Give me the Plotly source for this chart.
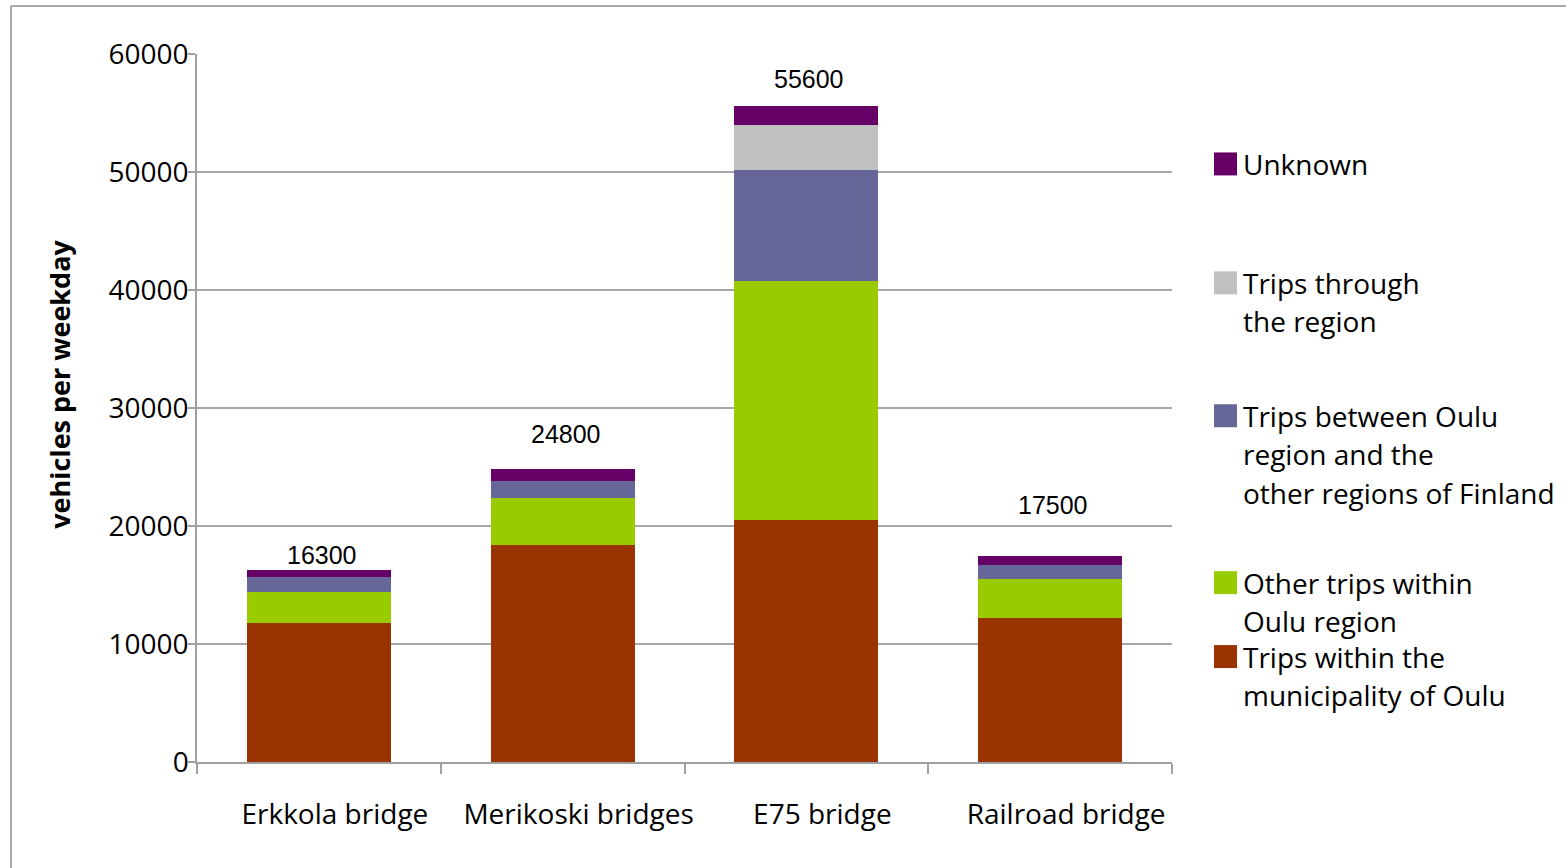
import plotly.graph_objects as go

# Daily traffic across Oulu bridges, split by trip type
bridges = ["Erkkola bridge", "Merikoski bridges", "E75 bridge", "Railroad bridge"]

within_municipality = [11800, 18400, 20500, 12200]
other_within_region = [2600, 4000, 20300, 3300]
between_regions = [1250, 1400, 9400, 1200]
through_region = [0, 0, 3800, 0]
unknown = [650, 1000, 1600, 800]

totals = [16300, 24800, 55600, 17500]

series_names = [
    ["Trips within the", "municipality of Oulu"],
    ["Other trips within", "Oulu region"],
    ["Trips between Oulu", "region and the", "other regions of Finland"],
    ["Trips through", "the region"],
    ["Unknown"],
]
series_values = [within_municipality, other_within_region, between_regions,
                 through_region, unknown]
series_colors = ["#993300", "#99cc00", "#666699", "#c0c0c0", "#660066"]

W, H = 1566, 868
L, R, T, B = 197, 1172, 54, 762.5  # plot area in pixels


def px_x(x):
    return (x - L) / (R - L)


def px_y(y):
    return (B - y) / (B - T)


fig = go.Figure()
for names, vals, col in zip(series_names, series_values, series_colors):
    fig.add_trace(go.Bar(
        x=bridges, y=vals, name=" ".join(names),
        marker=dict(color=col, line=dict(width=0)),
        showlegend=False,
    ))

# Total labels above each stack
label_shift = [-1, 19, 11, 35]
for b, t, s in zip(bridges, totals, label_shift):
    fig.add_annotation(
        x=b, y=t, text=str(t), showarrow=False, yanchor="bottom",
        yshift=s, xshift=3,
        font=dict(family="Liberation Sans, Arial", size=25, color="#000"),
    )

# Legend drawn as swatches with wrapped labels
legend_rows = [657, 583, 416, 283, 164]  # centre of first line for each entry
line_step = 38.5
shapes = []
for names, col, y0 in zip(series_names, series_colors, legend_rows):
    shapes.append(dict(
        type="rect", xref="paper", yref="paper",
        x0=px_x(1214), x1=px_x(1237), y0=px_y(y0 + 11.5), y1=px_y(y0 - 11.5),
        fillcolor=col, line=dict(width=0),
    ))
    for i, line in enumerate(names):
        fig.add_annotation(
            xref="paper", yref="paper", x=px_x(1241), y=px_y(y0 + i * line_step),
            xanchor="left", yanchor="middle", showarrow=False, text=line,
            font=dict(family="Open Sans", size=28, color="#000"),
        )

# Outer frame (top and left edges)
shapes.append(dict(type="line", xref="paper", yref="paper",
                   x0=px_x(11), x1=px_x(W + 5), y0=px_y(6), y1=px_y(6),
                   line=dict(color="#8c8c8c", width=1.5)))
shapes.append(dict(type="line", xref="paper", yref="paper",
                   x0=px_x(11), x1=px_x(11), y0=px_y(6), y1=px_y(H + 5),
                   line=dict(color="#8c8c8c", width=1.5)))

# Y axis title
fig.add_annotation(
    xref="paper", yref="paper", x=px_x(60), y=px_y(385), textangle=-90,
    xanchor="center", yanchor="middle",
    showarrow=False, text="<b>vehicles per weekday</b>",
    font=dict(family="Open Sans", size=27, color="#000"),
)

fig.update_layout(
    width=W, height=H,
    margin=dict(l=L, r=W - R, t=T, b=H - B, pad=0),
    barmode="stack", bargap=0.41,
    paper_bgcolor="white", plot_bgcolor="white",
    shapes=shapes,
    font=dict(family="Open Sans", color="#000"),
    xaxis=dict(
        tickson="boundaries", ticks="outside", ticklen=10, tickcolor="#a0a0a0",
        tickwidth=1.5, showline=True, linecolor="#a0a0a0", linewidth=1.5,
        tickfont=dict(family="Open Sans", size=28, color="#000"),
        ticklabelstandoff=27, ticklabelshift=16, showgrid=False,
    ),
    yaxis=dict(
        range=[0, 60000], dtick=10000, tickformat="d",
        ticks="outside", ticklen=7, tickcolor="#a0a0a0", tickwidth=1.5,
        showline=True, linecolor="#a0a0a0", linewidth=1.5,
        gridcolor="#a6a6a6", gridwidth=1.5, zeroline=False,
        tickfont=dict(family="Open Sans", size=28, color="#000"),
        ticklabelstandoff=-6,
    ),
)

fig.write_html("out.html")
